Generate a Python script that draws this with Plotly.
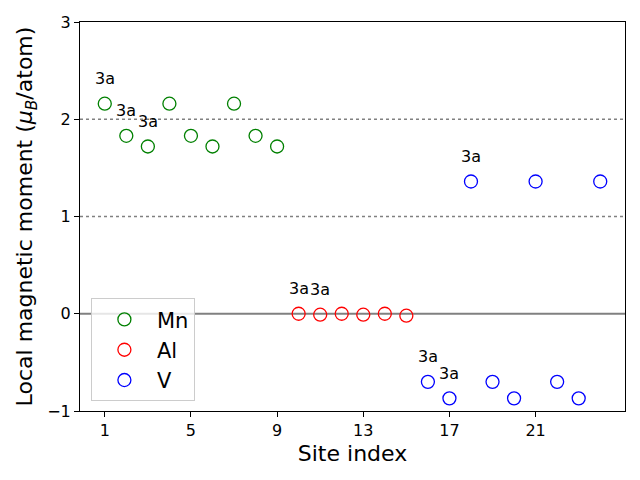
import plotly.graph_objects as go

mn_x = [1, 2, 3, 4, 5, 6, 7, 8, 9]
mn_y = [2.16, 1.83, 1.72, 2.16, 1.83, 1.72, 2.16, 1.83, 1.72]
al_x = [10, 11, 12, 13, 14, 15]
al_y = [0.00, -0.01, 0.00, -0.01, 0.00, -0.02]
v_x = [16, 17, 18, 19, 20, 21, 22, 23, 24]
v_y = [-0.70, -0.87, 1.36, -0.70, -0.87, 1.36, -0.70, -0.87, 1.36]
label_x = [1, 2, 3, 10, 11, 16, 17, 18]
label_text = "3a"
x_ticks = [1, 5, 9, 13, 17, 21]
y_ticks = [-1, 0, 1, 2, 3]

all_x = mn_x + al_x + v_x
all_y = mn_y + al_y + v_y

fig = go.Figure()

for xs, ys, name, color in [(mn_x, mn_y, "Mn", "green"), (al_x, al_y, "Al", "red"), (v_x, v_y, "V", "blue")]:
    fig.add_trace(go.Scatter(
        x=xs, y=ys, mode="markers", name=name,
        marker=dict(symbol="circle-open", size=13, color=color, line=dict(width=1.3, color=color)),
    ))

fig.add_hline(y=2, line=dict(color="gray", dash="dot", width=1.5), layer="below")
fig.add_hline(y=1, line=dict(color="gray", dash="dot", width=1.5), layer="below")
fig.add_hline(y=0, line=dict(color="gray", width=1.8), layer="below")

for lx in label_x:
    ly = all_y[all_x.index(lx)]
    fig.add_annotation(x=lx, y=ly, text=label_text, showarrow=False, yshift=25,
                       font=dict(size=16, color="black"))

axis_common = dict(showgrid=False, zeroline=False, showline=True, linecolor="black", linewidth=1,
                   mirror=True, ticks="outside", ticklen=5, tickcolor="black", automargin=False,
                   tickfont=dict(size=16, color="black"))

fig.update_layout(
    width=632, height=472,
    margin=dict(l=72, r=15, t=14, b=69),
    plot_bgcolor="white", paper_bgcolor="white",
    font=dict(family="DejaVu Sans", color="black"),
    xaxis=dict(range=[-0.15, 25.15], tickvals=x_ticks,
               title=dict(text="Site index", font=dict(size=22), standoff=6), **axis_common),
    yaxis=dict(range=[-1, 3], tickvals=y_ticks, ticktext=["\u22121", "0", "1", "2", "3"],
               title=dict(text="Local magnetic moment (<i>\u03bc<sub>B</sub></i>/atom)", font=dict(size=22), standoff=8),
               **axis_common),
    legend=dict(x=0.02, y=0.025, xanchor="left", yanchor="bottom",
                bordercolor="#cccccc", borderwidth=1, bgcolor="rgba(255,255,255,0.8)",
                font=dict(size=21), itemsizing="trace", itemwidth=55, tracegroupgap=4),
    showlegend=True,
)

fig.write_html("out.html")
